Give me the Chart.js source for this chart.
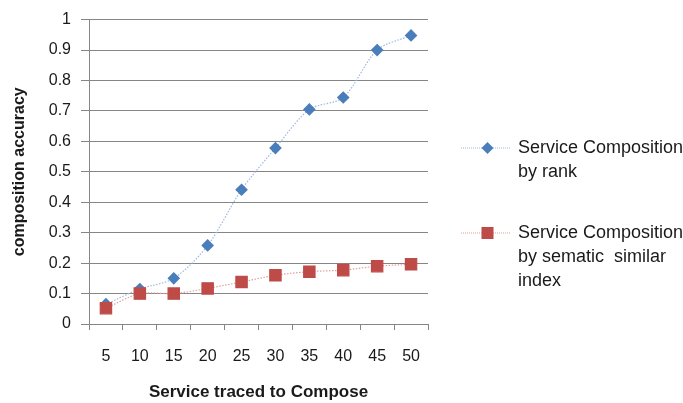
<!DOCTYPE html>
<html>
<head>
<meta charset="utf-8">
<script src="https://cdn.jsdelivr.net/npm/chart.js@4"></script>
<style>
  html, body { margin: 0; padding: 0; background: #fff; }
  #wrap { width: 683px; height: 403px; }
</style>
</head>
<body>
<div id="wrap"><canvas id="chart" width="683" height="403"></canvas></div>
<script>
const categories = ['5', '10', '15', '20', '25', '30', '35', '40', '45', '50'];
const rankValues = [0.065, 0.115, 0.15, 0.258, 0.441, 0.578, 0.705, 0.744, 0.90, 0.948];
const indexValues = [0.052, 0.10, 0.10, 0.117, 0.138, 0.16, 0.172, 0.177, 0.19, 0.196];
const seriesNames = [
    ['Service Composition', 'by rank'],
    ['Service Composition', 'by sematic  similar', 'index']
];

const FONT = '"Liberation Sans", Arial, sans-serif';

// legend drawn by hand so the labels can wrap like the original
const sideLegend = {
    id: 'sideLegend',
    afterDraw(chart) {
        const ctx = chart.ctx;
        const rows = [148, 233];
        ctx.save();
        chart.data.datasets.forEach((ds, i) => {
            const y = rows[i];
            ctx.strokeStyle = ds.borderColor;
            ctx.lineWidth = 1;
            ctx.setLineDash([1, 1]);
            ctx.beginPath();
            ctx.moveTo(461, y);
            ctx.lineTo(511, y);
            ctx.stroke();
            ctx.setLineDash([]);
            ctx.fillStyle = ds.pointBackgroundColor;
            if (ds.pointStyle === 'rectRot') {
                ctx.beginPath();
                ctx.moveTo(487.5, y - 6);
                ctx.lineTo(493.5, y);
                ctx.lineTo(487.5, y + 6);
                ctx.lineTo(481.5, y);
                ctx.closePath();
                ctx.fill();
            } else {
                ctx.fillRect(481.5, y - 6, 12, 12);
            }
            ctx.fillStyle = '#1a1a1a';
            ctx.font = '18px ' + FONT;
            ctx.textBaseline = 'middle';
            seriesNames[i].forEach((line, j) => ctx.fillText(line, 518, y + j * 24));
        });
        ctx.restore();
    }
};

new Chart(document.getElementById('chart'), {
    type: 'line',
    data: {
        labels: categories,
        datasets: [{
            label: seriesNames[0].join(' '),
            data: rankValues,
            order: 1,
            borderColor: '#9cb9df',
            borderWidth: 1.2,
            borderDash: [1.5, 1.5],
            pointStyle: 'rectRot',
            pointRadius: 5.5,
            pointBackgroundColor: '#4a7ebb',
            pointBorderColor: '#4a7ebb',
            tension: 0.3
        }, {
            label: seriesNames[1].join(' '),
            data: indexValues,
            order: 0,
            borderColor: '#e0a09e',
            borderWidth: 1.2,
            borderDash: [1.5, 1.5],
            pointStyle: 'rect',
            pointRadius: 8,
            pointBackgroundColor: '#be4b48',
            pointBorderColor: '#be4b48',
            tension: 0.3
        }]
    },
    options: {
        responsive: false,
        animation: false,
        layout: { padding: { top: 18, right: 255, left: 0, bottom: 0 } },
        plugins: { legend: { display: false }, tooltip: { enabled: false } },
        scales: {
            x: {
                offset: true,
                grid: {
                    offset: true,
                    drawOnChartArea: false,
                    color: '#868686',
                    tickLength: 6
                },
                border: { color: '#868686' },
                ticks: {
                    color: '#1a1a1a',
                    padding: 17,
                    maxRotation: 0,
                    font: { family: FONT, size: 16 }
                },
                title: {
                    display: true,
                    text: 'Service traced to Compose',
                    color: '#1a1a1a',
                    padding: { top: 14, bottom: 0 },
                    font: { family: FONT, size: 17, weight: 'bold' }
                },
                afterFit(scale) { scale.height = 79; }
            },
            y: {
                min: 0,
                max: 1,
                ticks: {
                    stepSize: 0.1,
                    color: '#1a1a1a',
                    padding: 10,
                    font: { family: FONT, size: 16 },
                    callback: v => String(Math.round(v * 10) / 10)
                },
                grid: { color: '#868686', tickLength: 8 },
                border: { color: '#868686' },
                title: {
                    display: true,
                    text: 'composition accuracy',
                    color: '#1a1a1a',
                    padding: { top: 10, bottom: 4 },
                    font: { family: FONT, size: 16, weight: 'bold' }
                },
                afterFit(scale) { scale.width = 89; }
            }
        }
    },
    plugins: [sideLegend]
});
</script>
</body>
</html>
